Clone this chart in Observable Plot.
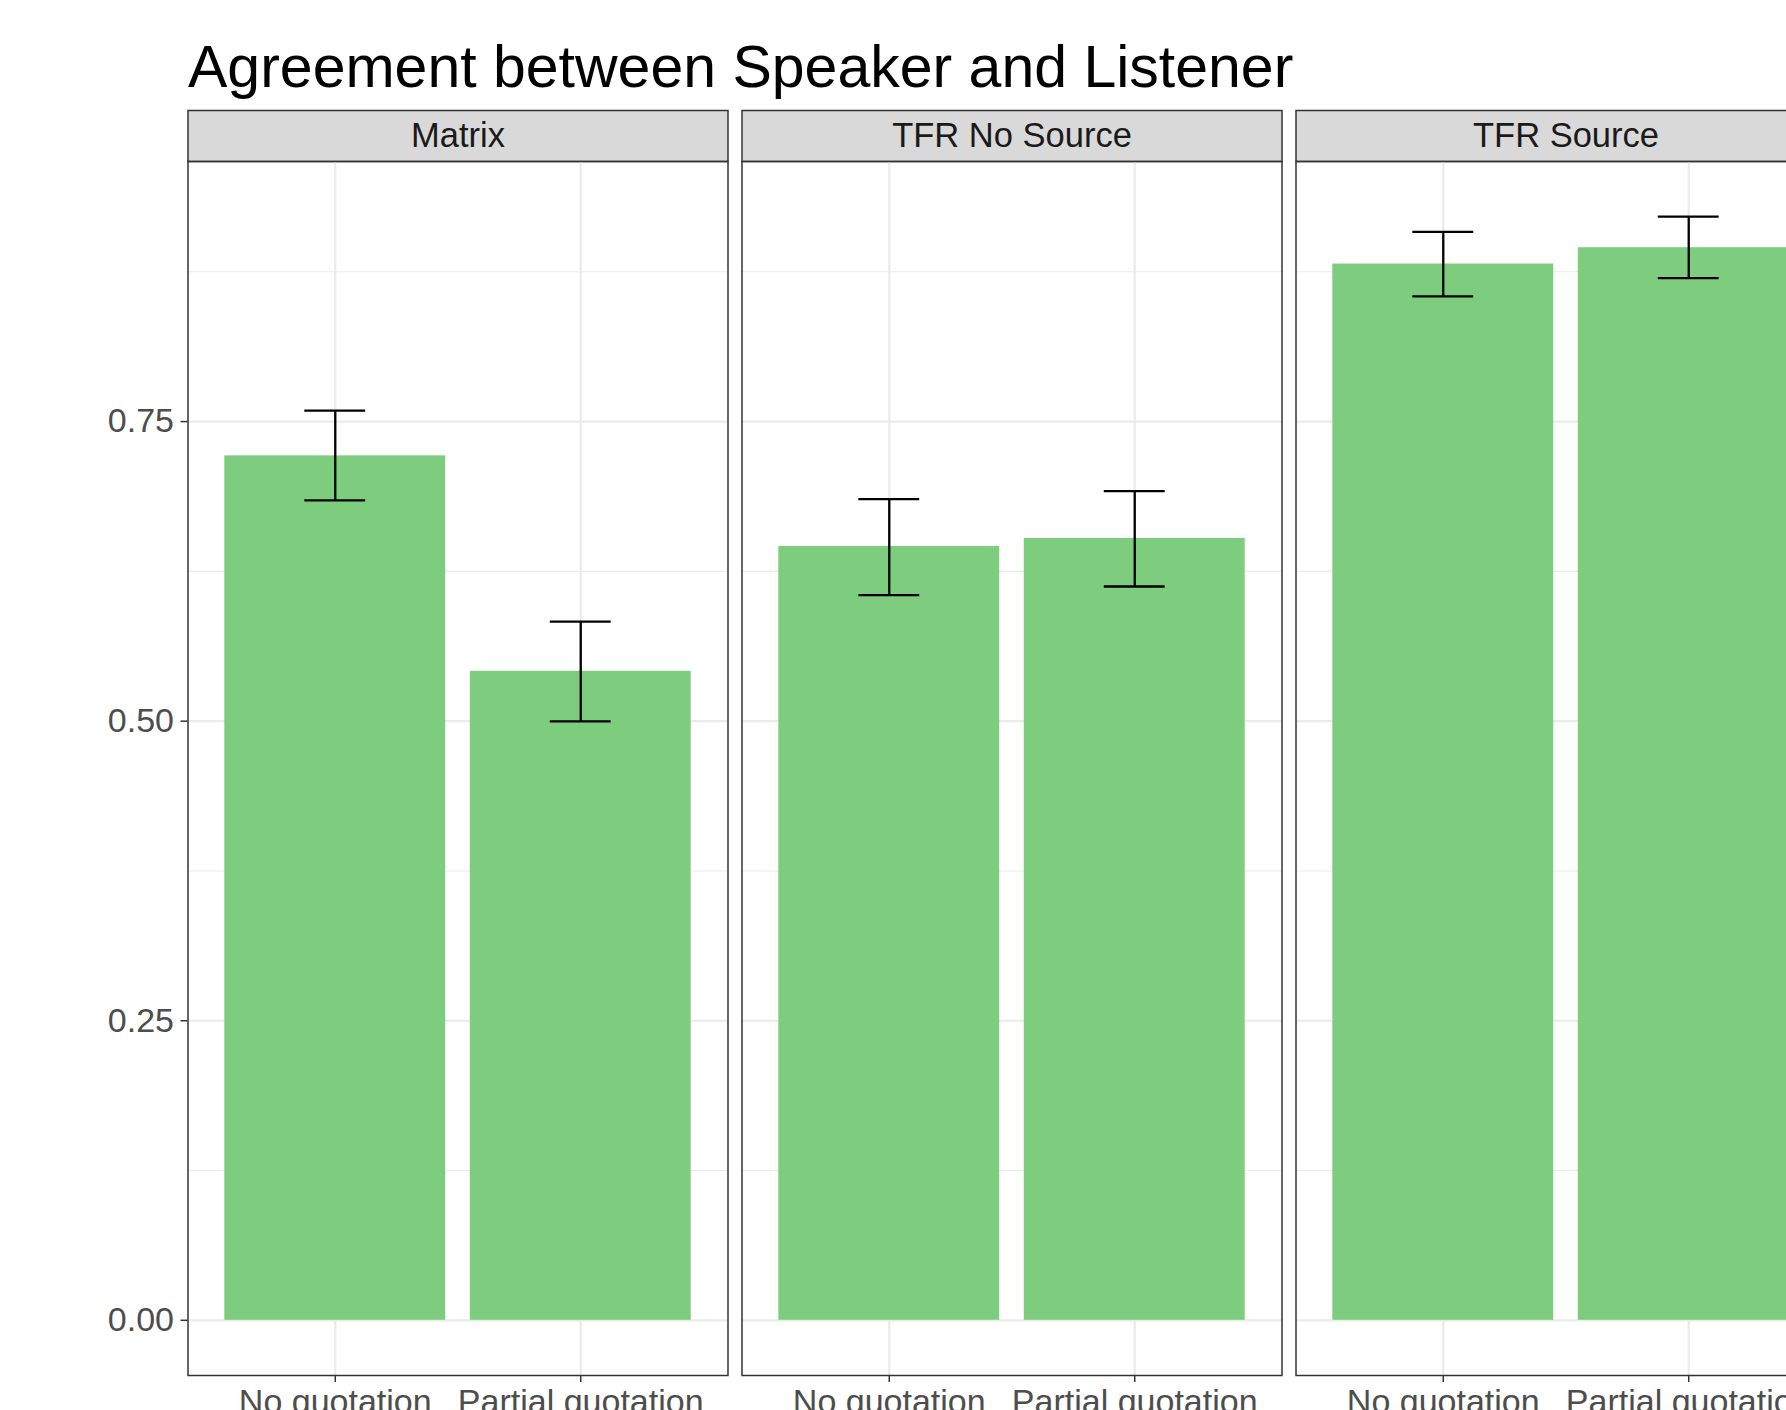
<!DOCTYPE html>
<html>
<head>
<meta charset="utf-8">
<script src="https://cdn.jsdelivr.net/npm/d3@7"></script>
<script src="https://cdn.jsdelivr.net/npm/@observablehq/plot@0.6"></script>
<style>
  html, body { margin: 0; padding: 0; background: #fff; overflow: hidden; }
  #title {
    box-sizing: border-box; height: 100px; padding: 38px 0 0 188px;
    font-family: "Liberation Sans", Arial, Helvetica, sans-serif;
    font-size: 59px; line-height: 59px; color: #000; white-space: nowrap;
  }
  #chart { width: 1900px; }
  #chart svg { display: block; max-width: none !important; width: 1900px !important; height: 1335px !important; }
</style>
</head>
<body>
<div id="title">Agreement between Speaker and Listener</div>
<div id="chart"></div>
<script>
// ---- data ----
const panels = ["Matrix", "TFR No Source", "TFR Source"];
const conditions = ["No quotation", "Partial quotation"];
const panelOf = ["Matrix", "Matrix", "TFR No Source", "TFR No Source", "TFR Source", "TFR Source"];
const conditionOf = ["No quotation", "Partial quotation", "No quotation", "Partial quotation", "No quotation", "Partial quotation"];
const means = [0.7214, 0.5416, 0.6458, 0.6525, 0.8815, 0.8951];
const errLow = [0.6842, 0.4998, 0.6052, 0.6124, 0.8545, 0.8698];
const errHigh = [0.7592, 0.5830, 0.6853, 0.6919, 0.9084, 0.9210];
const majorTicks = [0, 0.25, 0.5, 0.75];
const minorTicks = [0.125, 0.375, 0.625, 0.875];

const rows = means.map((m, i) => ({panel: panelOf[i], cond: conditionOf[i], mean: m, lo: errLow[i], hi: errHigh[i]}));

const ymax = d3.max(errHigh);
const font = "Liberation Sans, Arial, Helvetica, sans-serif";

const chart = Plot.plot({
  width: 1900,
  height: 1335,
  marginLeft: 187.5,
  marginRight: 64.5,
  marginTop: 61,
  marginBottom: 60,
  style: {fontFamily: font, background: "#fff", overflow: "visible", maxWidth: "none"},
  fx: {domain: panels, paddingInner: 14 / 554, paddingOuter: 0, round: false, axis: null, label: null},
  x: {domain: conditions, paddingInner: 0.1, paddingOuter: 0.15, round: false, label: null, axis: null},
  y: {domain: [-0.05 * ymax, 1.05 * ymax], label: null, axis: null},
  marks: [
    // strip backgrounds
    Plot.frame({fill: "#d9d9d9", stroke: "#333333", strokeWidth: 1.5, insetTop: -51, insetBottom: 1214}),
    Plot.text(panels, {fx: d => d, text: d => d, frameAnchor: "top", dy: -25.5, fontSize: 34.5, fill: "#1a1a1a", lineAnchor: "middle"}),
    // grid
    Plot.ruleY(minorTicks, {y: d => d, stroke: "#ebebeb", strokeWidth: 1.1}),
    Plot.ruleY(majorTicks, {y: d => d, stroke: "#ebebeb", strokeWidth: 2.2}),
    Plot.ruleX(conditions, {x: d => d, stroke: "#ebebeb", strokeWidth: 2.2}),
    // bars
    Plot.barY(rows, {fx: "panel", x: "cond", y: "mean", fill: "#7ecd7e"}),
    // error bars
    Plot.ruleX(rows, {fx: "panel", x: "cond", y1: "lo", y2: "hi", stroke: "#000", strokeWidth: 2.3}),
    Plot.tickY(rows, {fx: "panel", x: "cond", y: "lo", stroke: "#000", strokeWidth: 2.3, insetLeft: 80, insetRight: 80}),
    Plot.tickY(rows, {fx: "panel", x: "cond", y: "hi", stroke: "#000", strokeWidth: 2.3, insetLeft: 80, insetRight: 80}),
    // panel border
    Plot.frame({stroke: "#333333", strokeWidth: 1.5}),
    // axes
    Plot.axisY({anchor: "left", ticks: majorTicks, tickFormat: d3.format(".2f"), tickSize: 7, tickPadding: 7,
      fontSize: 34, fill: "#4d4d4d", stroke: "#333333", strokeWidth: 1.5, label: null}),
    Plot.axisX({anchor: "bottom", tickSize: 7, tickPadding: 6, fontSize: 34, fill: "#4d4d4d",
      stroke: "#333333", strokeWidth: 1.5, label: null})
  ]
});
document.getElementById("chart").appendChild(chart);
</script>
</body>
</html>
